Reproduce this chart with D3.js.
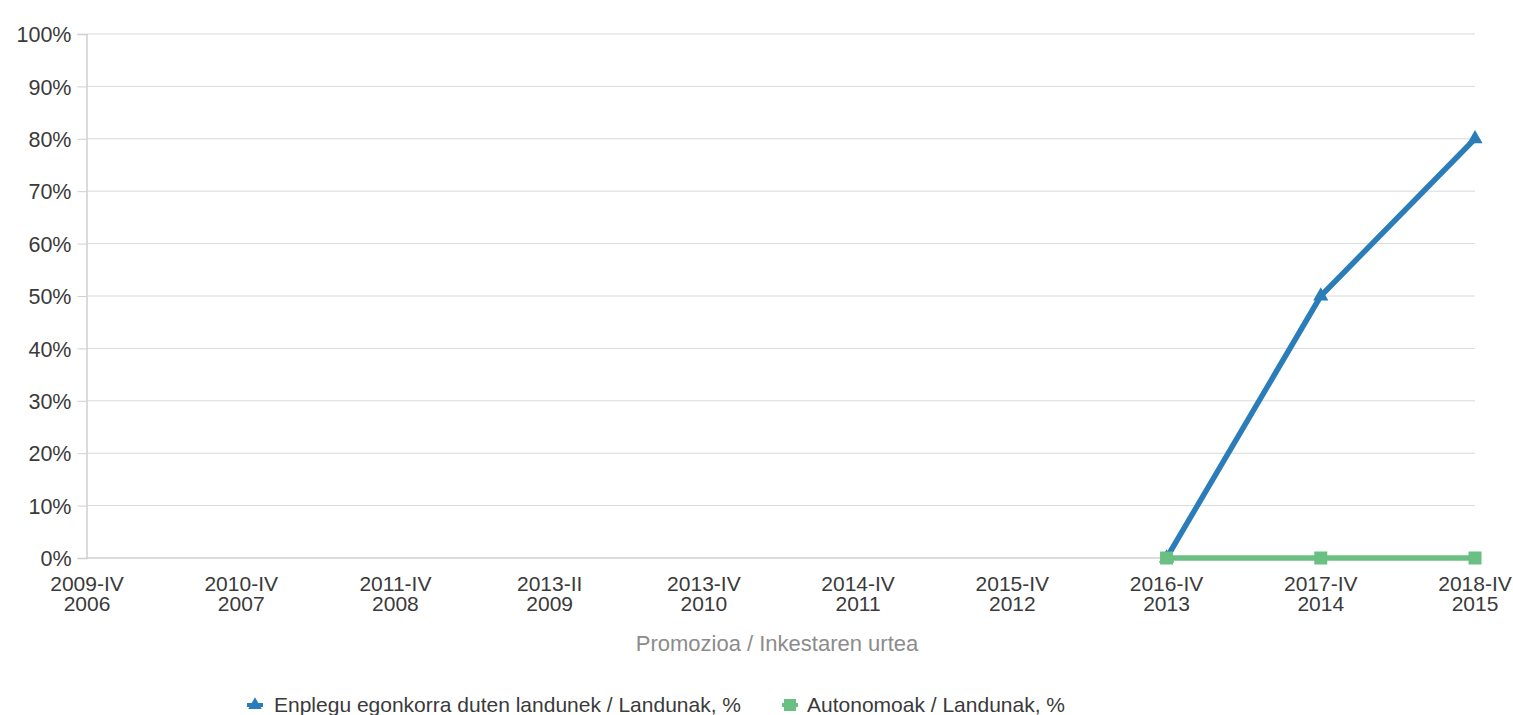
<!DOCTYPE html>
<html><head><meta charset="utf-8">
<script src="https://cdn.jsdelivr.net/npm/d3@7/dist/d3.min.js"></script>
<style>
html,body{margin:0;padding:0;background:#fff;}
svg{display:block;font-family:"Liberation Sans",Arial,sans-serif;}
</style></head>
<body>
<svg id="chart" width="1513" height="715"></svg>
<script>
const categoriesTop = ["2009-IV","2010-IV","2011-IV","2013-II","2013-IV","2014-IV","2015-IV","2016-IV","2017-IV","2018-IV"];
const categoriesBottom = ["2006","2007","2008","2009","2010","2011","2012","2013","2014","2015"];
const seriesNames = ["Enplegu egonkorra duten landunek / Landunak, %","Autonomoak / Landunak, %"];
const stableValues = [null,null,null,null,null,null,null,0,50,80];
const autonomValues = [null,null,null,null,null,null,null,0,0,0];
const yTicks = [0,10,20,30,40,50,60,70,80,90,100];
const xTitle = "Promozioa / Inkestaren urtea";

(function(){
const svg = d3.select("#chart");
const pL = 87, pR = 1475, pT = 34, pB = 558;
const x = d3.scalePoint().domain(d3.range(categoriesTop.length)).range([pL, pR]).padding(0);
const y = d3.scaleLinear().domain([0,100]).range([pB, pT]);
const textCol = "#3a3a3a";

// gridlines
svg.append("g").selectAll("line").data(yTicks.filter(d=>d>0)).join("line")
  .attr("x1", pL).attr("x2", pR)
  .attr("y1", d=>y(d)).attr("y2", d=>y(d))
  .attr("stroke", "#d9d9d9").attr("stroke-width", 1);

// y axis
const yAxis = d3.axisLeft(y).tickValues(yTicks).tickFormat(d=>d+"%").tickSize(9).tickPadding(6);
const yg = svg.append("g").attr("transform", `translate(${pL-0.5},0)`).call(yAxis);
yg.select(".domain").attr("stroke","#cfcfcf").attr("stroke-width",1.5);
yg.selectAll(".tick line").attr("stroke","#cfcfcf");
yg.selectAll(".tick text").attr("font-size","21.5px").attr("fill",textCol)
  .attr("font-family","Liberation Sans, Arial, sans-serif").attr("dy","0.36em");

// x axis baseline
svg.append("line").attr("x1", pL).attr("x2", pR).attr("y1", y(0)).attr("y2", y(0))
  .attr("stroke","#cfcfcf").attr("stroke-width",1.5);

// x labels
const xl = svg.append("g").selectAll("text").data(d3.range(categoriesTop.length)).join("text")
  .attr("x", d=>x(d)).attr("y", 591).attr("text-anchor","middle")
  .attr("font-size","21px").attr("fill",textCol);
xl.append("tspan").attr("x", d=>x(d)).attr("dy",0).text(d=>categoriesTop[d]);
xl.append("tspan").attr("x", d=>x(d)).attr("dy",20).text(d=>categoriesBottom[d]);

// x title
svg.append("text").attr("x", 777).attr("y", 650.5).attr("text-anchor","middle")
  .attr("font-size","22px").attr("fill","#8c8c8c").text(xTitle);

const colors = ["#2a7db8","#69c082"];
const idx = (arr)=>arr.map((v,i)=>({v,i})).filter(d=>d.v!=null);
const lineGen = d3.line().defined(d=>d!=null).x((d,i)=>x(i)).y(d=>y(d));

// blue series
svg.append("path").datum(stableValues).attr("d", lineGen)
  .attr("fill","none").attr("stroke",colors[0]).attr("stroke-width",5.5).attr("stroke-linejoin","round");
svg.append("g").selectAll("path").data(idx(stableValues)).join("path")
  .attr("d", d3.symbol().type(d3.symbolTriangle).size(100))
  .attr("transform", d=>`translate(${x(d.i)},${y(d.v)})`).attr("fill",colors[0]);

// green series
svg.append("path").datum(autonomValues).attr("d", lineGen)
  .attr("fill","none").attr("stroke",colors[1]).attr("stroke-width",5.5);
svg.append("g").selectAll("rect").data(idx(autonomValues)).join("rect")
  .attr("x", d=>x(d.i)-6.5).attr("y", d=>y(d.v)-6.5).attr("width",13).attr("height",13)
  .attr("fill",colors[1]);

// legend
const leg = svg.append("g");
const legItems = [{x:255, c:colors[0], t:"tri", name:seriesNames[0], tx:274},{x:790, c:colors[1], t:"sq", name:seriesNames[1], tx:807}];
legItems.forEach(it=>{
  const g = leg.append("g").attr("transform",`translate(${it.x},705)`);
  g.append("line").attr("x1",-8).attr("x2",8).attr("y1",0).attr("y2",0).attr("stroke",it.c).attr("stroke-width",4);
  if(it.t==="tri") g.append("path").attr("d",d3.symbol().type(d3.symbolTriangle).size(80)).attr("fill",it.c);
  else g.append("rect").attr("x",-6).attr("y",-6).attr("width",12).attr("height",12).attr("fill",it.c);
  leg.append("text").attr("x",it.tx).attr("y",711.5).attr("font-size","21px").attr("fill",textCol).text(it.name);
});
})();
</script>
</body></html>
